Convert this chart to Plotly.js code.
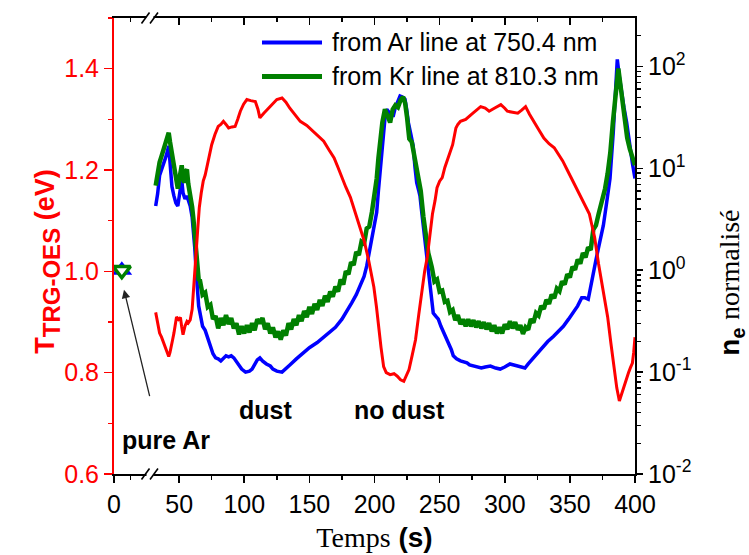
<!DOCTYPE html>
<html>
<head>
<meta charset="utf-8">
<script src="https://cdn.plot.ly/plotly-3.0.1.min.js"></script>
<style>html,body{margin:0;padding:0;background:#fff;}#chart{width:749px;height:555px;}</style>
</head>
<body>
<div id="chart"></div>
<script>
// ---- Data (time in s) ----
// Electron temperature T_TRG-OES (eV), left axis
const redTime = [32,33.5,35,36.5,38,40,42,43,44,45,46,47,48,49.5,51,52,53,54.5,56,57,58.5,60,61,62,63,64.2,65.5,67,68.5,70,71,73,75,77.5,80,82,84,86,88,90.5,93,95,97,99.5,102,105,108.5,110.5,112,115,118.5,122,125,129,132,135,139,143,148,153,157,161,165,169,172,175,178,181.5,184,187,189.5,192,195.5,197.5,199.5,201.5,203,205,207,209,212,215,217.5,220,222.5,224.5,226.5,229,231.5,234,236.5,238.5,240.5,242.5,244.5,246.5,248,250,252,254,256,258,260,262.5,264,266,270,274,278,281.5,285,288,292,297,300,302,306,310,313,316,319,322.5,326,330,334,338,341,344.5,348,351,355,358.5,362,365,367,369,372,374,376.5,379,381.5,384,386,388,390,391.5,393,395,396.5,398,399,400];
const redTe = [0.919,0.895,0.878,0.87,0.86,0.845,0.832,0.84,0.85,0.865,0.878,0.895,0.91,0.905,0.909,0.89,0.875,0.892,0.901,0.898,0.904,0.925,0.956,0.99,1.035,1.08,1.126,1.155,1.178,1.19,1.201,1.225,1.25,1.27,1.286,1.29,1.296,1.29,1.283,1.285,1.286,1.30,1.316,1.33,1.339,1.337,1.335,1.32,1.303,1.312,1.322,1.332,1.339,1.342,1.334,1.322,1.31,1.296,1.288,1.276,1.268,1.257,1.24,1.224,1.205,1.185,1.166,1.146,1.125,1.10,1.08,1.061,1.022,0.995,0.969,0.93,0.891,0.85,0.812,0.80,0.796,0.798,0.793,0.786,0.783,0.795,0.806,0.835,0.865,0.915,0.969,1.0,1.028,1.07,1.113,1.14,1.165,1.178,1.185,1.205,1.221,1.235,1.25,1.283,1.29,1.296,1.30,1.309,1.318,1.325,1.322,1.316,1.322,1.329,1.322,1.316,1.314,1.312,1.318,1.325,1.31,1.296,1.28,1.263,1.252,1.244,1.232,1.218,1.20,1.185,1.165,1.146,1.13,1.113,1.09,1.067,1.015,0.985,0.956,0.91,0.858,0.81,0.77,0.744,0.76,0.775,0.786,0.80,0.81,0.819,0.84,0.87];

// Normalised n_e from Ar line at 750.4 nm, stored as log10 (decades)
const arTime = [32,33.5,35,36.5,38,40,42,43,44.5,46,47.5,49,50.5,52,53,54.5,56,57.5,58.5,60,61,62,63,64,65,66.5,68,70,72,74,76,78,80,82,84,86,88,90,92,94,96,98,101,104,106,108,110,112,114,117,120,122,125,129,132,135,140,145,150,156,161,166,170,175,179,182.5,186,189,192,194,196,198,200,201.7,203,204.2,205.5,207,208.1,209.4,211,213,214.5,216,218,219.6,221.5,223.4,224.7,226,228,229.7,231,232.4,234,234.9,236,237.5,238.8,240.1,241.3,242.6,244,245.1,247,249,251,253,255,257,259,260.5,263,266,268,271,273,276,279,282,285,289,293,296.5,300,304,307,310,313,315.5,318,321.9,326,329.6,333,337.3,341,345,349,352.6,356,359.1,361.5,364.1,366,368,370,371.8,373.8,375.7,378.3,380.8,383.3,385,386.4,388,389.8,391.5,393.6,396.2,398,400];
const arNeLog10 = [0.63,0.75,0.93,0.98,1.05,1.12,1.22,1.05,0.82,0.73,0.66,0.63,0.75,0.89,0.76,0.70,0.73,0.66,0.63,0.52,0.40,0.22,0.01,-0.17,-0.35,-0.45,-0.55,-0.59,-0.66,-0.74,-0.82,-0.86,-0.87,-0.89,-0.87,-0.84,-0.85,-0.84,-0.86,-0.90,-0.94,-0.97,-1.00,-0.99,-0.97,-0.93,-0.88,-0.86,-0.89,-0.92,-0.94,-0.97,-0.99,-1.00,-0.97,-0.93,-0.87,-0.81,-0.76,-0.71,-0.66,-0.61,-0.56,-0.48,-0.40,-0.32,-0.24,-0.15,-0.06,0.04,0.17,0.31,0.44,0.57,0.78,0.96,1.14,1.32,1.50,1.58,1.55,1.52,1.52,1.60,1.66,1.71,1.70,1.68,1.58,1.45,1.33,1.22,1.02,0.86,0.78,0.73,0.60,0.44,0.27,0.11,-0.02,-0.15,-0.30,-0.42,-0.45,-0.48,-0.55,-0.61,-0.66,-0.71,-0.78,-0.84,-0.87,-0.89,-0.90,-0.91,-0.93,-0.94,-0.95,-0.96,-0.95,-0.94,-0.96,-0.97,-0.95,-0.92,-0.93,-0.94,-0.95,-0.96,-0.92,-0.86,-0.80,-0.74,-0.70,-0.65,-0.60,-0.55,-0.48,-0.42,-0.35,-0.27,-0.27,-0.285,-0.15,-0.02,0.10,0.21,0.32,0.44,0.67,0.90,1.35,1.75,2.07,1.90,1.71,1.60,1.45,1.19,1.05,0.90];

// Normalised n_e from Kr line at 810.3 nm, stored as log10 (decades)
const krTime = [32,33.5,35,36.5,38,39.5,41,42,43,44.5,46,47.5,49,50.5,52,53,54,55,56,57,58.5,60,61,62,63,64,65,66,68,70,72,74,76,78,80,82,84,86,88,90,92,94,96,98,100,102,104,106,108,110,112,114,116,118,120,122,124,126,128,130,132,134,136,138,140,142,144,146,148,150,152,154,156,158,160,162,164,166,168,170,172,174,176,178,180,182,184,186,188,190,192,194,196,198,200,201.7,203,204.2,206,208,210,212,214,216,218,220,222,223.5,225,226.7,228.6,230.5,232.4,234,235.5,237.5,239.5,241.3,244,246,248,250,252,254,256,258,260,262,264,266,268,270,272,274,276,278,280,282,284,286,288,290,292,294,296,298,300,302,304,306,308,310,312,314,316,318,320,322,324,326,328,330,332,334,336,338,340,342,344,346,348,350,352,354,356,358,360,362,364,366,368,370,372,373,375,377,379,381,383,384.6,386,387.2,388.5,389.8,391,392.3,394,396,398,400];
const krNeLog10 = [0.83,0.95,1.06,1.12,1.18,1.24,1.30,1.35,1.26,1.14,1.02,0.90,0.80,0.92,1.03,0.90,0.86,0.97,0.99,0.85,0.76,0.62,0.50,0.34,0.17,0.04,-0.09,-0.10,-0.24,-0.22,-0.36,-0.34,-0.48,-0.45,-0.57,-0.47,-0.54,-0.44,-0.53,-0.47,-0.57,-0.52,-0.63,-0.55,-0.62,-0.54,-0.61,-0.52,-0.59,-0.48,-0.52,-0.47,-0.58,-0.52,-0.62,-0.56,-0.66,-0.60,-0.68,-0.59,-0.64,-0.52,-0.58,-0.48,-0.54,-0.44,-0.50,-0.40,-0.46,-0.36,-0.43,-0.33,-0.39,-0.29,-0.35,-0.25,-0.31,-0.21,-0.26,-0.16,-0.21,-0.09,-0.14,-0.01,-0.04,0.08,0.05,0.18,0.15,0.28,0.26,0.41,0.43,0.57,0.75,0.90,1.10,1.29,1.45,1.58,1.50,1.45,1.58,1.62,1.60,1.67,1.70,1.64,1.50,1.29,1.26,1.12,1.03,0.90,0.78,0.53,0.30,0.17,0.03,-0.11,-0.09,-0.21,-0.20,-0.31,-0.30,-0.41,-0.39,-0.49,-0.44,-0.53,-0.48,-0.55,-0.48,-0.55,-0.49,-0.56,-0.50,-0.57,-0.51,-0.58,-0.52,-0.60,-0.54,-0.62,-0.56,-0.62,-0.53,-0.58,-0.50,-0.57,-0.51,-0.585,-0.54,-0.625,-0.56,-0.585,-0.48,-0.515,-0.42,-0.445,-0.35,-0.38,-0.29,-0.33,-0.24,-0.275,-0.18,-0.205,-0.11,-0.14,-0.04,-0.07,0.035,0.005,0.105,0.065,0.17,0.125,0.225,0.20,0.40,0.44,0.55,0.60,0.70,0.80,0.95,1.15,1.45,1.68,1.85,1.98,1.85,1.71,1.55,1.42,1.30,1.19,1.10,1.03];

// Pure Ar reference point
const pureArTime = [6];
const pureArNe = [1.0];

// Axis ticks
const timeTicks = [0,50,100,150,200,250,300,350,400];
const timeMinorTicks = [12.5,75,125,175,225,275,325,375];
const teTicks = [0.6,0.8,1.0,1.2,1.4];
const neTicks = [0.01,0.1,1,10,100];
const neTickText = ['10<sup>-2</sup>','10<sup>-1</sup>','10<sup>0</sup>','10<sup>1</sup>','10<sup>2</sup>'];
const neMinorTicks = [];
[0.01,0.1,1,10,100].forEach(d => { for (let k = 2; k <= 9; k++) neMinorTicks.push(d * k); });

// Labels
const seriesNames = ['from Ar line at 750.4 nm', 'from Kr line at 810.3 nm'];

const toLinear = arr => arr.map(v => Math.pow(10, v));

const SANS = 'Liberation Sans, Arial, sans-serif';
const BLUE = '#0000ff', GREEN = '#008000', RED = '#ff0000';

const traces = [
  {x: arTime, y: toLinear(arNeLog10), type: 'scatter', mode: 'lines', name: seriesNames[0],
   line: {color: BLUE, width: 3.5}, xaxis: 'x', yaxis: 'y', showlegend: false},
  {x: krTime, y: toLinear(krNeLog10), type: 'scatter', mode: 'lines', name: seriesNames[1],
   line: {color: GREEN, width: 4.5}, xaxis: 'x', yaxis: 'y', showlegend: false},
  {x: pureArTime, y: pureArNe, type: 'scatter', mode: 'markers', name: 'pure Ar (Ar line)',
   marker: {symbol: 'triangle-up', size: 18, color: BLUE}, xaxis: 'x', yaxis: 'y', showlegend: false},
  {x: pureArTime, y: pureArNe, type: 'scatter', mode: 'markers', name: 'pure Ar (Kr line)',
   marker: {symbol: 'triangle-down', size: 15, color: '#ffffff', line: {color: GREEN, width: 3.5}},
   xaxis: 'x', yaxis: 'y', showlegend: false},
  {x: redTime, y: redTe, type: 'scatter', mode: 'lines', name: 'T TRG-OES',
   line: {color: RED, width: 3}, xaxis: 'x', yaxis: 'y2', showlegend: false},
  {x: [null], y: [null], type: 'scatter', mode: 'markers', xaxis: 'x2', yaxis: 'y',
   showlegend: false, hoverinfo: 'skip'}
];

// helpers to place decorations in paper coordinates
const PL = 114, PR = 635, PT = 18.3, PB = 474.3;
const px2paperX = p => (p - PL) / (PR - PL);
const px2paperY = p => 1 - (p - PT) / (PB - PT);

const shapes = [];
// axis breaks "//" on bottom and top axes
[0, 1].forEach(yb => {
  shapes.push({type: 'rect', xref: 'paper', yref: 'paper', layer: 'above',
    x0: px2paperX(146.5), x1: px2paperX(153.5), y0: yb - 0.006, y1: yb + 0.006,
    line: {width: 0}, fillcolor: '#ffffff'});
  shapes.push({type: 'line', xref: 'paper', yref: 'paper', layer: 'above',
    x0: px2paperX(141.5), x1: px2paperX(149.5), y0: yb - 0.012, y1: yb + 0.012,
    line: {color: '#000000', width: 1.6}});
  shapes.push({type: 'line', xref: 'paper', yref: 'paper', layer: 'above',
    x0: px2paperX(150), x1: px2paperX(158), y0: yb - 0.012, y1: yb + 0.012,
    line: {color: '#000000', width: 1.6}});
});
// legend samples
shapes.push({type: 'line', xref: 'paper', yref: 'paper', layer: 'above',
  x0: px2paperX(262), x1: px2paperX(322), y0: px2paperY(42.7), y1: px2paperY(42.7),
  line: {color: BLUE, width: 4}});
shapes.push({type: 'line', xref: 'paper', yref: 'paper', layer: 'above',
  x0: px2paperX(262), x1: px2paperX(322), y0: px2paperY(76.7), y1: px2paperY(76.7),
  line: {color: GREEN, width: 5}});

const annFont = {family: SANS, size: 25, color: '#000000'};
const annotations = [
  {xref: 'paper', yref: 'paper', x: px2paperX(330), y: px2paperY(42.7), xanchor: 'left', yanchor: 'middle',
   text: seriesNames[0], showarrow: false, font: annFont},
  {xref: 'paper', yref: 'paper', x: px2paperX(330), y: px2paperY(76.7), xanchor: 'left', yanchor: 'middle',
   text: seriesNames[1], showarrow: false, font: annFont},
  {xref: 'paper', yref: 'paper', x: px2paperX(265), y: px2paperY(410), xanchor: 'center', yanchor: 'middle',
   text: '<b>dust</b>', showarrow: false, font: annFont},
  {xref: 'paper', yref: 'paper', x: px2paperX(399), y: px2paperY(410), xanchor: 'center', yanchor: 'middle',
   text: '<b>no dust</b>', showarrow: false, font: annFont},
  {xref: 'paper', yref: 'paper', x: px2paperX(166), y: px2paperY(440), xanchor: 'center', yanchor: 'middle',
   text: '<b>pure Ar</b>', showarrow: false, font: annFont},
  {xref: 'paper', yref: 'paper', x: px2paperX(124), y: px2paperY(290), text: '',
   showarrow: true, arrowhead: 2, arrowsize: 1.3, arrowwidth: 1.3, arrowcolor: '#222222',
   ax: 26, ay: 108, standoff: 0},
  // left axis title (T_TRG-OES)
  {xref: 'paper', yref: 'paper', x: px2paperX(48), y: px2paperY(262), xanchor: 'center', yanchor: 'middle',
   textangle: -90, showarrow: false,
   text: '<b>T<sub><span style="font-size:24px">TRG-OES</span></sub> (eV)</b>',
   font: {family: SANS, size: 27, color: RED}},
  // right axis title (n_e normalisé)
  {xref: 'paper', yref: 'paper', x: px2paperX(732), y: px2paperY(283), xanchor: 'center', yanchor: 'middle',
   textangle: -90, showarrow: false,
   text: '<b>n<sub>e</sub></b> <span style="font-family:Liberation Serif">normalisé</span>',
   font: {family: SANS, size: 28, color: '#000000'}}
];

const tickFont = {family: SANS, size: 25, color: '#000000'};

const layout = {
  width: 749, height: 555,
  margin: {l: PL, r: 749 - PR, t: PT, b: 555 - PB, pad: 0},
  paper_bgcolor: '#ffffff', plot_bgcolor: '#ffffff',
  font: {family: SANS, color: '#000000'},
  showlegend: false,
  xaxis: {
    range: [0, 400], tickmode: 'array', tickvals: timeTicks, ticks: 'outside', ticklen: 7, tickwidth: 1.6,
    tickcolor: '#000000', showline: true, linecolor: '#000000', linewidth: 2, showgrid: false, zeroline: false,
    tickfont: tickFont,
    minor: {tickmode: 'array', tickvals: timeMinorTicks, ticks: 'outside', ticklen: 4, tickwidth: 1.4, tickcolor: '#000000', showgrid: false},
    title: {text: '<span style="font-family:Liberation Serif">Temps</span> <b>(s)</b>',
            font: {family: SANS, size: 28, color: '#000000'}, standoff: 10},
    automargin: false
  },
  xaxis2: {
    range: [0, 400], overlaying: 'x', side: 'top', anchor: 'y', tickmode: 'array', tickvals: timeTicks,
    ticks: 'inside', ticklen: 7, tickwidth: 1.6, tickcolor: '#000000', showticklabels: false,
    showline: true, linecolor: '#000000', linewidth: 2, showgrid: false, zeroline: false,
    minor: {tickmode: 'array', tickvals: timeMinorTicks, ticks: 'inside', ticklen: 4, tickwidth: 1.4, tickcolor: '#000000', showgrid: false},
    automargin: false
  },
  yaxis: {
    type: 'log', range: [-2, 2.476], side: 'right', tickmode: 'array', tickvals: neTicks, ticktext: neTickText,
    ticks: 'outside', ticklen: 6, tickwidth: 1.6, tickcolor: '#000000', showline: true, linecolor: '#000000',
    linewidth: 2, showgrid: false, zeroline: false, tickfont: tickFont,
    minor: {tickmode: 'array', tickvals: neMinorTicks, ticks: 'outside', ticklen: 4, tickwidth: 1.3, tickcolor: '#000000', showgrid: false},
    automargin: false
  },
  yaxis2: {
    range: [0.6, 1.5], overlaying: 'y', side: 'left', anchor: 'x', tickmode: 'array', tickvals: teTicks,
    ticktext: teTicks.map(v => v.toFixed(1)),
    ticks: 'outside', ticklen: 8, tickwidth: 1.6, tickcolor: RED, showline: true, linecolor: RED, linewidth: 2,
    showgrid: false, zeroline: false, tickfont: {family: SANS, size: 25, color: RED},
    minor: {tickmode: 'linear', tick0: 0.6, dtick: 0.1, ticks: 'outside', ticklen: 4, tickwidth: 1.4, tickcolor: RED, showgrid: false},
    automargin: false
  },
  shapes: shapes,
  annotations: annotations
};

Plotly.newPlot('chart', traces, layout, {displayModeBar: false, staticPlot: true});
</script>
</body>
</html>
